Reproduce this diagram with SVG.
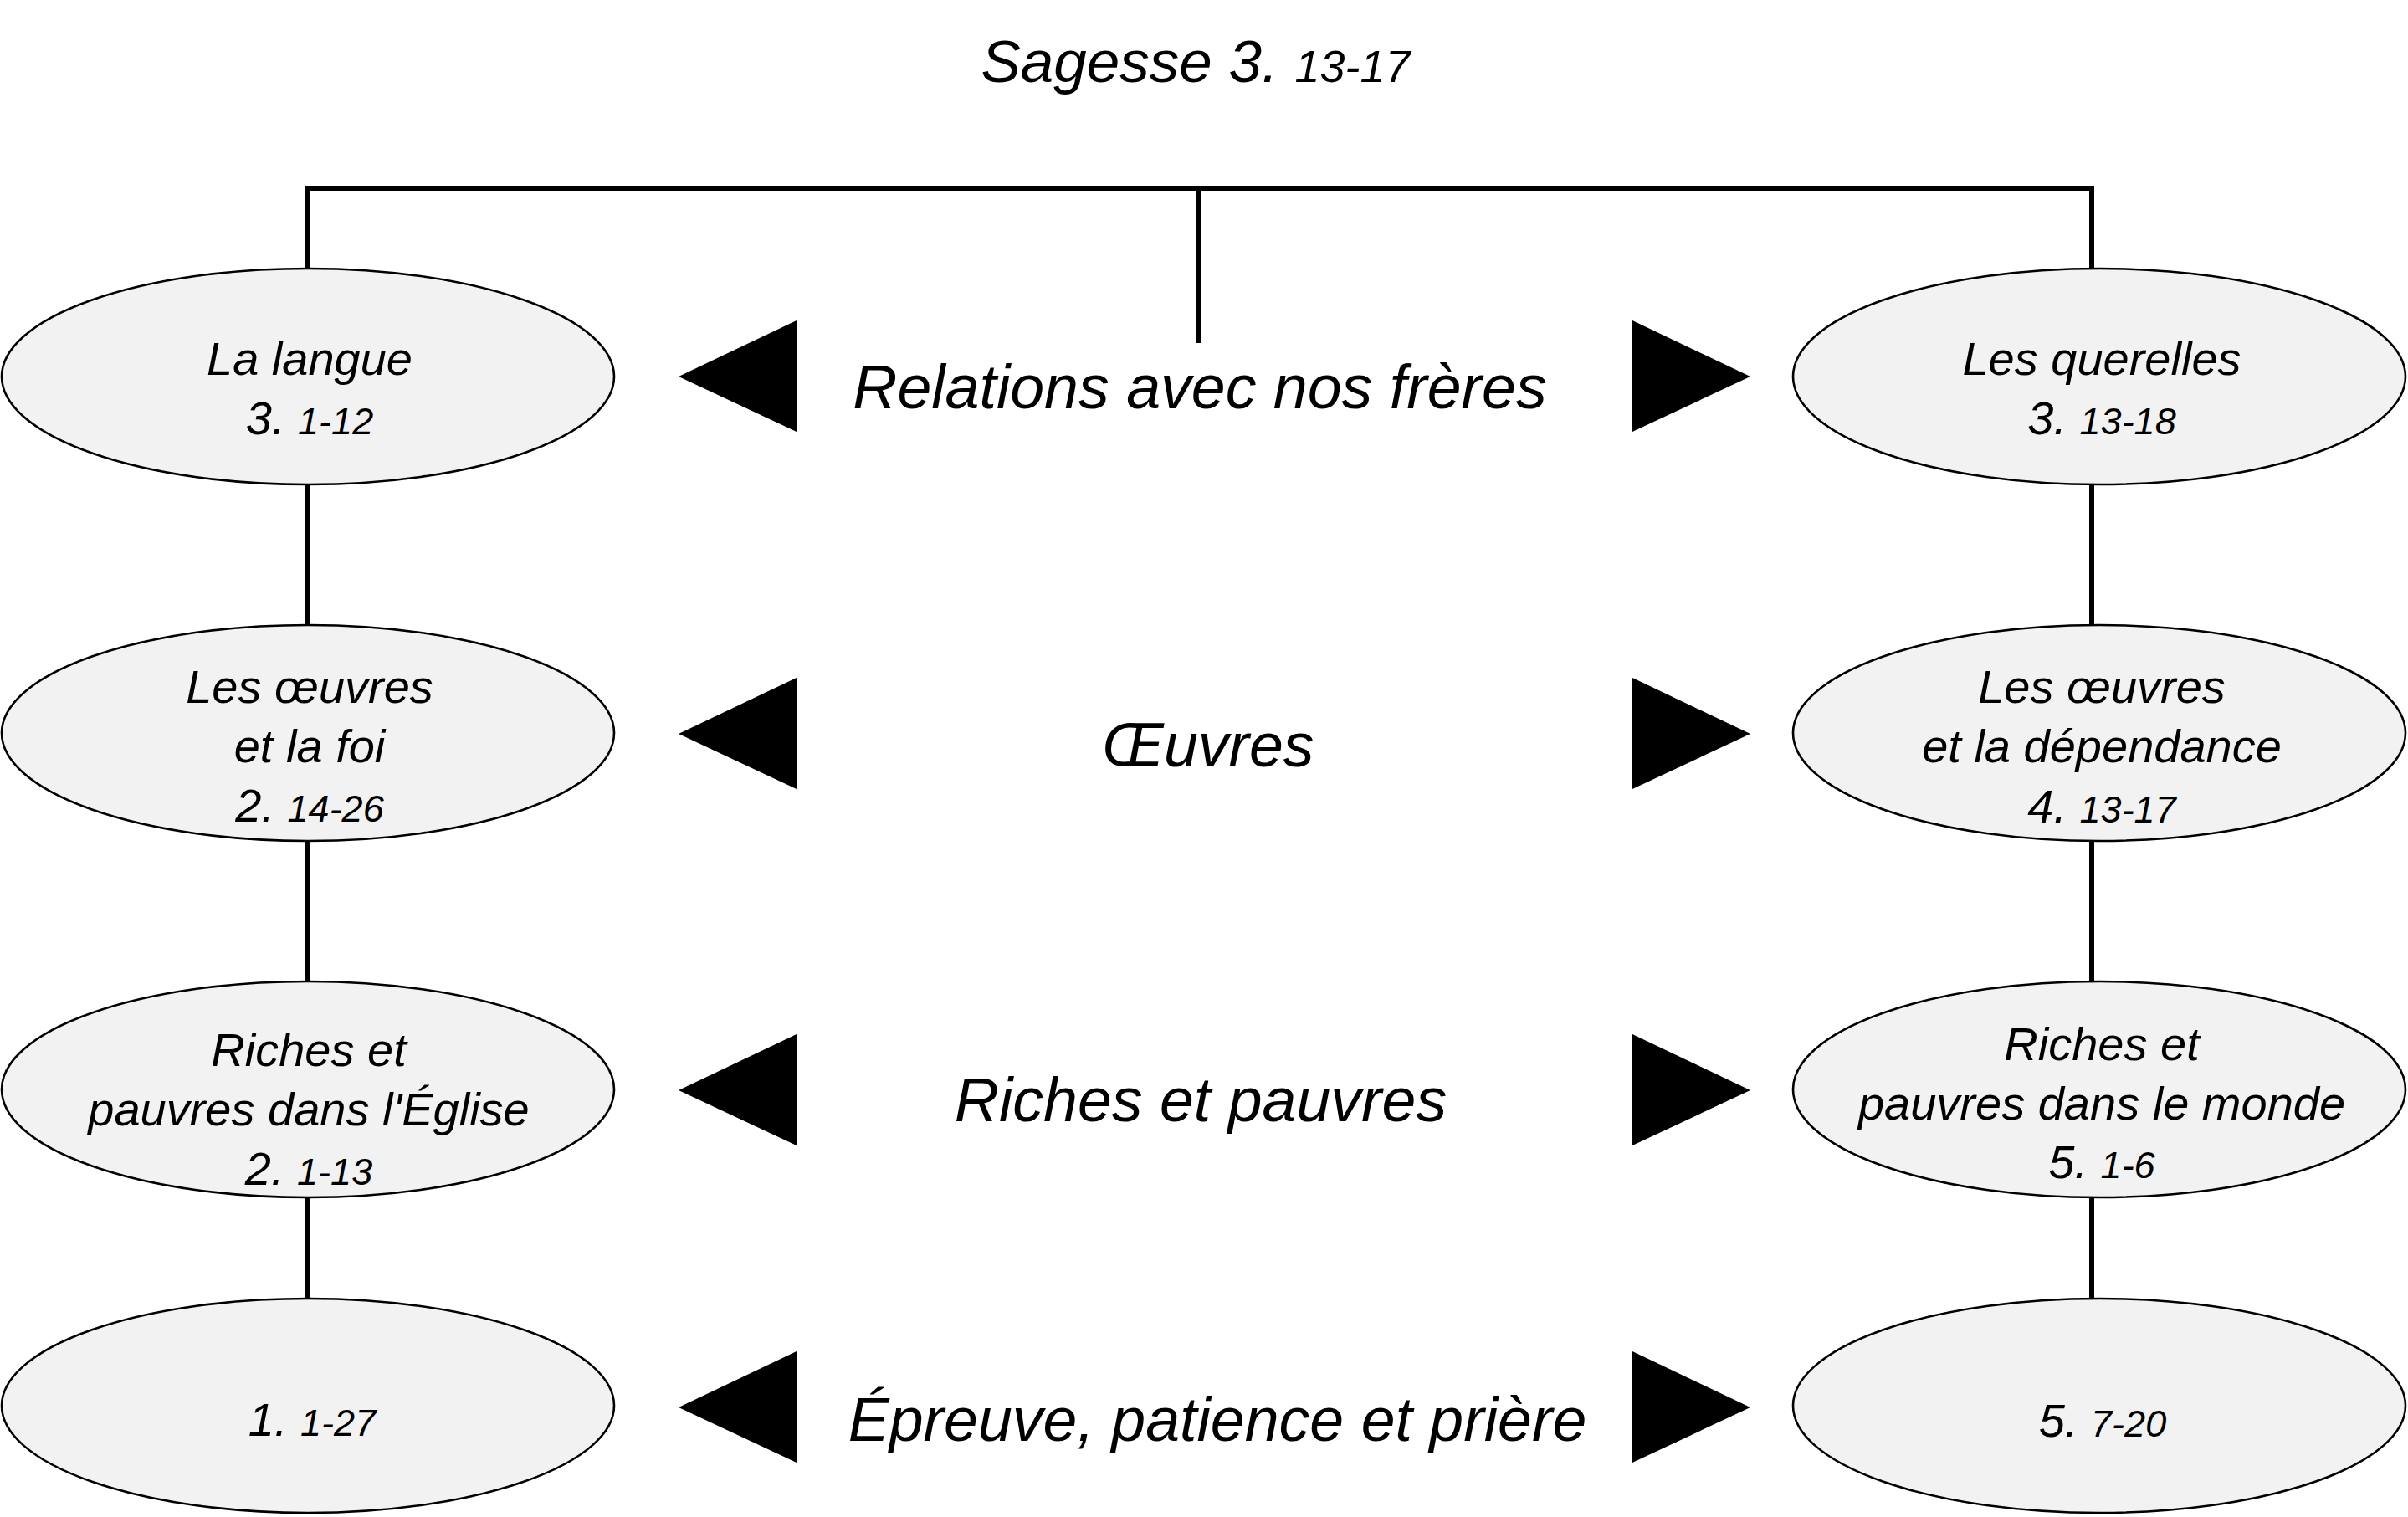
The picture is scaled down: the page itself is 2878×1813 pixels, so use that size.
<svg xmlns="http://www.w3.org/2000/svg" width="2878" height="1813" viewBox="0 0 2878 1813">
<style>
text{font-family:"Liberation Sans",Arial,sans-serif;font-style:italic;fill:#000}
.node{fill:#f2f2f2;stroke:#000;stroke-width:2.6}
.lbl{font-size:56px;text-anchor:middle}
.v{font-size:45px}
.mid{font-size:73.5px;text-anchor:middle}
.conn{stroke:#000;stroke-width:6;fill:none}
.tri{fill:#000}
</style>
<rect width="2878" height="1813" fill="#fff"/>
<text x="1429" y="98" style="font-size:71px;text-anchor:middle">Sagesse 3. <tspan style="font-size:54px">13-17</tspan></text>
<g id="connectors">
<path class="conn" d="M368 320V225H2500V320M1433 225V410"/>
<path class="conn" d="M368 580V747M368 1006V1173M368 1432V1552"/>
<path class="conn" d="M2500 580V747M2500 1006V1173M2500 1432V1552"/>
</g>
<g id="arrows">
<polygon class="tri" points="811,450 952,383 952,516"/>
<polygon class="tri" points="2092,450 1951,383 1951,516"/>
<polygon class="tri" points="811,877 952,810 952,943"/>
<polygon class="tri" points="2092,877 1951,810 1951,943"/>
<polygon class="tri" points="811,1303 952,1236 952,1369"/>
<polygon class="tri" points="2092,1303 1951,1236 1951,1369"/>
<polygon class="tri" points="811,1682 952,1615 952,1748"/>
<polygon class="tri" points="2092,1682 1951,1615 1951,1748"/>
</g>
<g id="theme-1"><text class="mid" x="1434" y="488">Relations avec nos frères</text></g>
<g id="theme-2"><text class="mid" x="1444" y="916">Œuvres</text></g>
<g id="theme-3"><text class="mid" x="1435" y="1340">Riches et pauvres</text></g>
<g id="theme-4"><text class="mid" x="1455" y="1722">Épreuve, patience et prière</text></g>
<g id="node-langue">
<ellipse class="node" cx="368" cy="450" rx="366" ry="129"/>
<text class="lbl" x="370" y="448">La langue</text>
<text class="lbl" x="370" y="519">3. <tspan class="v">1-12</tspan></text>
</g>
<g id="node-querelles">
<ellipse class="node" cx="2509" cy="450" rx="366" ry="129"/>
<text class="lbl" x="2512" y="448">Les querelles</text>
<text class="lbl" x="2512" y="519">3. <tspan class="v">13-18</tspan></text>
</g>
<g id="node-oeuvres-foi">
<ellipse class="node" cx="368" cy="876" rx="366" ry="129"/>
<text class="lbl" x="370" y="840">Les œuvres</text>
<text class="lbl" x="370" y="911">et la foi</text>
<text class="lbl" x="370" y="982">2. <tspan class="v">14-26</tspan></text>
</g>
<g id="node-oeuvres-dependance">
<ellipse class="node" cx="2509" cy="876" rx="366" ry="129"/>
<text class="lbl" x="2512" y="840">Les œuvres</text>
<text class="lbl" x="2512" y="911">et la dépendance</text>
<text class="lbl" x="2512" y="983">4. <tspan class="v">13-17</tspan></text>
</g>
<g id="node-riches-eglise">
<ellipse class="node" cx="368" cy="1302" rx="366" ry="129"/>
<text class="lbl" x="369" y="1274">Riches et</text>
<text class="lbl" x="369" y="1345">pauvres dans l'Église</text>
<text class="lbl" x="369" y="1416">2. <tspan class="v">1-13</tspan></text>
</g>
<g id="node-riches-monde">
<ellipse class="node" cx="2509" cy="1302" rx="366" ry="129"/>
<text class="lbl" x="2512" y="1267">Riches et</text>
<text class="lbl" x="2512" y="1338">pauvres dans le monde</text>
<text class="lbl" x="2512" y="1408">5. <tspan class="v">1-6</tspan></text>
</g>
<g id="node-epreuve-1">
<ellipse class="node" cx="368" cy="1680" rx="366" ry="128"/>
<text class="lbl" x="373" y="1716">1. <tspan class="v">1-27</tspan></text>
</g>
<g id="node-epreuve-5">
<ellipse class="node" cx="2509" cy="1680" rx="366" ry="128"/>
<text class="lbl" x="2513" y="1717">5. <tspan class="v">7-20</tspan></text>
</g>
</svg>
